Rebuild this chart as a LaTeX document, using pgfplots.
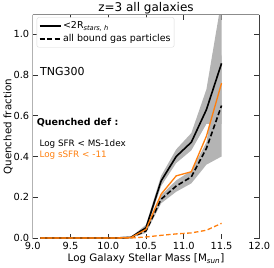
\documentclass[border=0pt]{standalone}
\usepackage{fontspec}
\setmainfont{DejaVu Sans}
\usepackage{pgfplots}
\usepackage{pgfplotstable}
\pgfplotsset{compat=1.18}
\definecolor{mplorange}{HTML}{FF7F0E}
\definecolor{bandgray}{HTML}{B4B4B4}

\pgfplotstableread{
x     s      d      o      od
9.1   0      0      0      0
9.3   0      0      0      0
9.5   0      0      0      0
9.7   0      0      0      0
9.9   0      0      0      0
10.1  0      0      0      0
10.3  0.003  0.002  0.002  0
10.5  0.050  0.035  0.042  0.005
10.7  0.280  0.190  0.215  0.013
10.9  0.400  0.255  0.305  0.020
11.1  0.470  0.300  0.325  0.025
11.3  0.630  0.440  0.500  0.038
11.5  0.857  0.650  0.760  0.072
}\qdata

% band around solid line: upper edge forward, lower edge backward
\pgfplotstableread{
x     y
10.3  0.005
10.5  0.065
10.7  0.305
10.9  0.435
11.1  0.515
11.3  0.730
11.5  1.170
11.5  0.560
11.3  0.560
11.1  0.430
10.9  0.368
10.7  0.255
10.5  0.035
10.3  0.001
}\sband

% band around dashed line
\pgfplotstableread{
x     y
10.3  0.003
10.5  0.045
10.7  0.210
10.9  0.283
11.1  0.330
11.3  0.470
11.5  0.900
11.5  0.400
11.3  0.360
11.1  0.268
10.9  0.227
10.7  0.170
10.5  0.025
10.3  0.001
}\dband

\begin{document}
\begin{tikzpicture}
\begin{axis}[
  scale only axis, width=226.6pt, height=224.3pt,
  xmin=9, xmax=12, ymin=-0.005, ymax=1.096,
  xtick={9,9.5,10,10.5,11,11.5,12},
  xticklabels={9.0,9.5,10.0,10.5,11.0,11.5,12.0},
  ytick={0,0.2,0.4,0.6,0.8,1.0},
  yticklabels={0.0,0.2,0.4,0.6,0.8,1.0},
  tick label style={font=\fontsize{9.8}{11}\selectfont},
  tick align=inside,
  major tick length=5pt,
  tick style={black!80, line width=0.6pt},
  axis line style={draw=none},
  xlabel={Log Galaxy Stellar Mass [M\textsubscript{\textit{sun}}]},
  ylabel={Quenched fraction},
  label style={font=\fontsize{10.3}{12}\selectfont},
  xlabel style={at={(axis description cs:0.5,-0.0892)}, anchor=center},
  ylabel style={at={(axis description cs:-0.1081,0.5)}, anchor=center},
  title={z=3 all galaxies},
  title style={font=\fontsize{12}{14}\selectfont, at={(axis description cs:0.5,1.0294)}, anchor=center, yshift=-6pt},
  legend style={at={(axis description cs:0,1)}, anchor=north west, xshift=4pt, yshift=-2.6pt,
    draw=black!15, rounded corners=2pt, fill=white, font=\fontsize{9.5}{11}\selectfont,
    inner xsep=2pt, inner ysep=2.5pt, row sep=1.5pt, nodes={inner sep=1.5pt}},
  legend cell align=left,
  legend image code/.code={\draw[#1] (0pt,0pt) -- (21pt,0pt);},
]
% bands
\addplot[fill=bandgray, draw=none, forget plot] table[x=x, y=y] {\sband};
\addplot[fill=bandgray, draw=none, forget plot] table[x=x, y=y] {\dband};
% lines
\addplot[black, line width=1.6pt] table[x=x, y=s] {\qdata};
\addlegendentry{<2R\textsubscript{\textit{stars, h}}}
\addplot[black, line width=1.6pt, dash pattern=on 5pt off 2.5pt] table[x=x, y=d] {\qdata};
\addlegendentry{all bound gas particles}
\addplot[mplorange, line width=1.3pt, forget plot] table[x=x, y=o] {\qdata};
\addplot[mplorange, line width=1.3pt, dash pattern=on 4.5pt off 2.5pt, forget plot] table[x=x, y=od] {\qdata};
% annotations
\node[anchor=west, inner sep=0pt, xshift=7.3pt, yshift=-57pt, font=\fontsize{11}{13}\selectfont] at (axis description cs:0,1) {TNG300};
\node[anchor=west, inner sep=0pt, xshift=4pt, yshift=-108pt, font=\fontsize{9.5}{11}\selectfont\bfseries] at (axis description cs:0,1) {Quenched def :};
\node[anchor=west, inner sep=0pt, xshift=6.6pt, yshift=-129.3pt, font=\fontsize{8.8}{10}\selectfont] at (axis description cs:0,1) {Log SFR < MS-1dex};
\node[anchor=west, inner sep=0pt, xshift=6.6pt, yshift=-140.3pt, font=\fontsize{8.8}{10}\selectfont, text=mplorange] at (axis description cs:0,1) {Log sSFR < -11};
\end{axis}
\draw[black!30, line width=1.2pt] (current axis.south west) -- (current axis.north west);
\draw[black!45, line width=1pt] (current axis.north west) -- (current axis.north east);
\draw[black!75, line width=1pt] (current axis.north east) -- (current axis.south east);
\pgfresetboundingbox
\path[use as bounding box] ([xshift=-32.7pt,yshift=-28pt]current axis.south west) rectangle ([xshift=14.7pt,yshift=14.7pt]current axis.north east);
\end{tikzpicture}
\end{document}
